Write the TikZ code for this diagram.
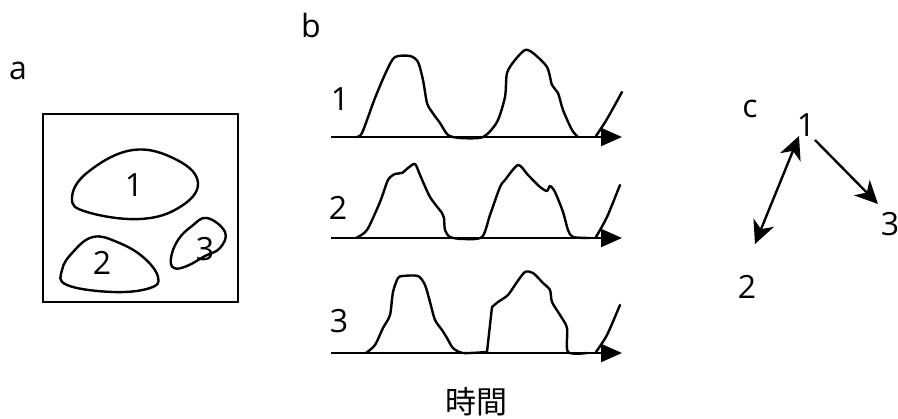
\documentclass[tikz,border=0pt]{standalone}
\usepackage{fontspec}
\setmainfont{Open Sans}
\newfontfamily\cjkfont{Noto Sans CJK JP}
\usetikzlibrary{arrows.meta}
\begin{document}
\begin{tikzpicture}[x=1pt,y=-1pt,
  lbl/.style={inner sep=0pt,font=\fontsize{32}{38}\selectfont},
  ink/.style={line width=2.4pt,line join=round,line cap=round},
  sig/.style={ink,smooth,tension=0.45},
  axis/.style={line width=2.2pt,-{Triangle[length=21pt,width=18pt]}},
  hd/.style={Stealth[length=23pt,width=22pt,inset=7pt]},
  rel/.style={line width=2.4pt,-{Stealth[length=23pt,width=22pt,inset=7pt]}},
  relboth/.style={line width=2.4pt,{Stealth[length=23pt,width=22pt,inset=7pt]}-{Stealth[length=23pt,width=22pt,inset=7pt]}}]
\useasboundingbox (0,0) rectangle (898,419);
% panel a
\node[lbl] (la) at (18,71) {a};
\draw[line width=2.2pt] (43,114) rectangle (238,302);
\draw[ink] plot[smooth cycle,tension=0.7] coordinates {(133,150) (177,160) (198,183) (180,207) (140,219) (87,212) (72,198) (88,172)};
\draw[ink] plot[smooth cycle,tension=0.7] coordinates {(93,237) (117,242) (143,257) (158,277) (150,288) (113,292) (67,285) (62,270) (73,252)};
\draw[ink] plot[smooth cycle,tension=0.7] coordinates {(207,218) (225,232) (220,248) (205,256) (187,266) (174,268) (171,258) (178,240) (192,226)};
\node[lbl] (a1) at (134,185) {1};
\node[lbl] (a2) at (102,263) {2};
\node[lbl] (a3) at (205,249) {3};
% panel b
\node[lbl] (lb) at (311,26) {b};
\node[lbl] (b1) at (340,99) {1};
\node[lbl] (b2) at (338,208) {2};
\node[lbl] (b3) at (339,321) {3};
\coordinate (ax1s) at (331,137); \coordinate (ax1e) at (622,137);
\coordinate (ax2s) at (331,238); \coordinate (ax2e) at (622,238);
\coordinate (ax3s) at (331,353); \coordinate (ax3e) at (622,353);
\draw[axis] (ax1s) -- (ax1e);
\draw[axis] (ax2s) -- (ax2e);
\draw[axis] (ax3s) -- (ax3e);
% row 1
\draw[sig] plot coordinates {(356,137) (362,133) (375,98) (387,70) (395,57) (410,56) (418,62) (423,80) (427,103) (432,112) (440,123) (448,135) (460,138) (483,137) (497,122) (505,97) (507,73) (515,60) (525,50) (533,53) (547,67) (552,85) (558,93) (563,110) (572,130) (578,137)};
\draw[sig] plot coordinates {(596,136) (607,119) (622,92)};
% row 2
\draw[sig] plot coordinates {(356,238) (367,230) (380,202) (388,180) (395,174) (402,173) (408,168) (415,164) (420,175) (430,197) (442,213) (444,218) (445,230) (450,237) (463,239) (482,237) (490,215) (500,187) (505,180) (518,165) (528,175) (540,187) (547,191) (550,186) (555,192) (563,212) (568,230) (573,237) (590,238)};
\draw[sig] plot coordinates {(596,237) (607,217) (620,185)};
% row 3
\draw[sig] plot coordinates {(366,353) (375,345) (383,328) (390,315) (393,292) (398,278) (403,276) (418,276) (425,285) (430,302) (435,320) (442,330) (447,338) (453,348) (463,353) (487,352)};
\draw[ink] (487,352) -- (492,307);
\draw[sig] plot coordinates {(492,307) (498,302) (508,295) (517,282) (525,272) (533,273) (543,283) (550,290) (552,302) (560,315) (567,328) (568,352) (587,353)};
\draw[sig] plot coordinates {(596,352) (607,335) (620,305)};
\node[inner sep=0pt,font=\cjkfont\fontsize{31}{34}\selectfont] (time) at (476,402) {時間};
% panel c
\node[lbl] (lc) at (750,109) {c};
\node[lbl] (c1) at (806,125) {1};
\node[lbl] (c2) at (747,287) {2};
\node[lbl] (c3) at (890,224) {3};
\coordinate (e1a) at (799,136);
\coordinate (e2) at (755,244);
\coordinate (e1b) at (815,140);
\coordinate (e3) at (878,204);
\draw[relboth] (e1a) -- (e2);
\draw[rel] (e1b) -- (e3);
\end{tikzpicture}
\end{document}
